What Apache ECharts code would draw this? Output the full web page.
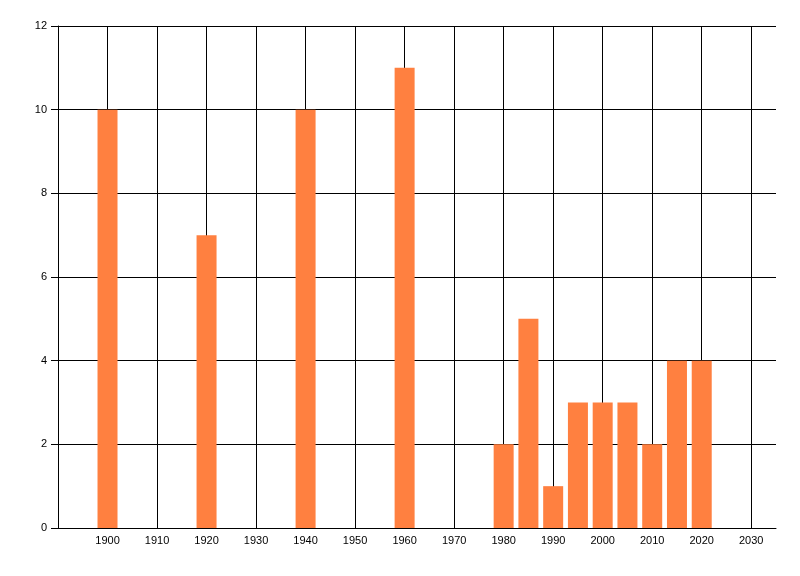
<!DOCTYPE html>
<html>
<head>
<meta charset="utf-8">
<script src="https://cdn.jsdelivr.net/npm/echarts@6/dist/echarts.min.js"></script>
<style>
html,body{margin:0;padding:0;background:#fff;}
#chart{width:800px;height:576px;}
</style>
</head>
<body>
<div id="chart"></div>
<script>
const years = [1900, 1920, 1940, 1960, 1980, 1985, 1990, 1995, 2000, 2005, 2010, 2015, 2020];
const counts = [10, 7, 10, 11, 2, 5, 1, 3, 3, 3, 2, 4, 4];
const xMin = 1890, xMax = 2035, xStep = 10;
const yMin = 0, yMax = 12, yStep = 2;

const chart = echarts.init(document.getElementById('chart'), null, {renderer: 'canvas'});
const font = '"Liberation Sans", Arial, sans-serif';
chart.setOption({
  animation: false,
  backgroundColor: '#ffffff',
  grid: {left: 58, right: 24, top: 26, bottom: 48, containLabel: false},
  xAxis: {
    type: 'value', min: xMin, max: xMax, interval: xStep,
    axisLine: {show: true, onZero: false, lineStyle: {color: '#000', width: 1}},
    axisTick: {show: false},
    splitLine: {show: true, showMinLine: false, showMaxLine: false, lineStyle: {color: '#000', width: 1}},
    axisLabel: {
      color: '#000', fontSize: 11, fontFamily: font, margin: 7,
      showMinLabel: false, showMaxLabel: false,
      formatter: v => (v === xMin || v === xMax) ? '' : String(v)
    }
  },
  yAxis: {
    type: 'value', min: yMin, max: yMax, interval: yStep,
    axisLine: {show: true, lineStyle: {color: '#000', width: 1}},
    axisTick: {show: true, length: 7, lineStyle: {color: '#000', width: 1}},
    splitLine: {show: true, lineStyle: {color: '#000', width: 1}},
    axisLabel: {color: '#000', fontSize: 11, fontFamily: font, margin: 11}
  },
  series: [{
    type: 'bar',
    data: years.map((y, i) => [y, counts[i]]),
    barWidth: 20,
    itemStyle: {color: '#FF8040'}
  }]
});
</script>
</body>
</html>
